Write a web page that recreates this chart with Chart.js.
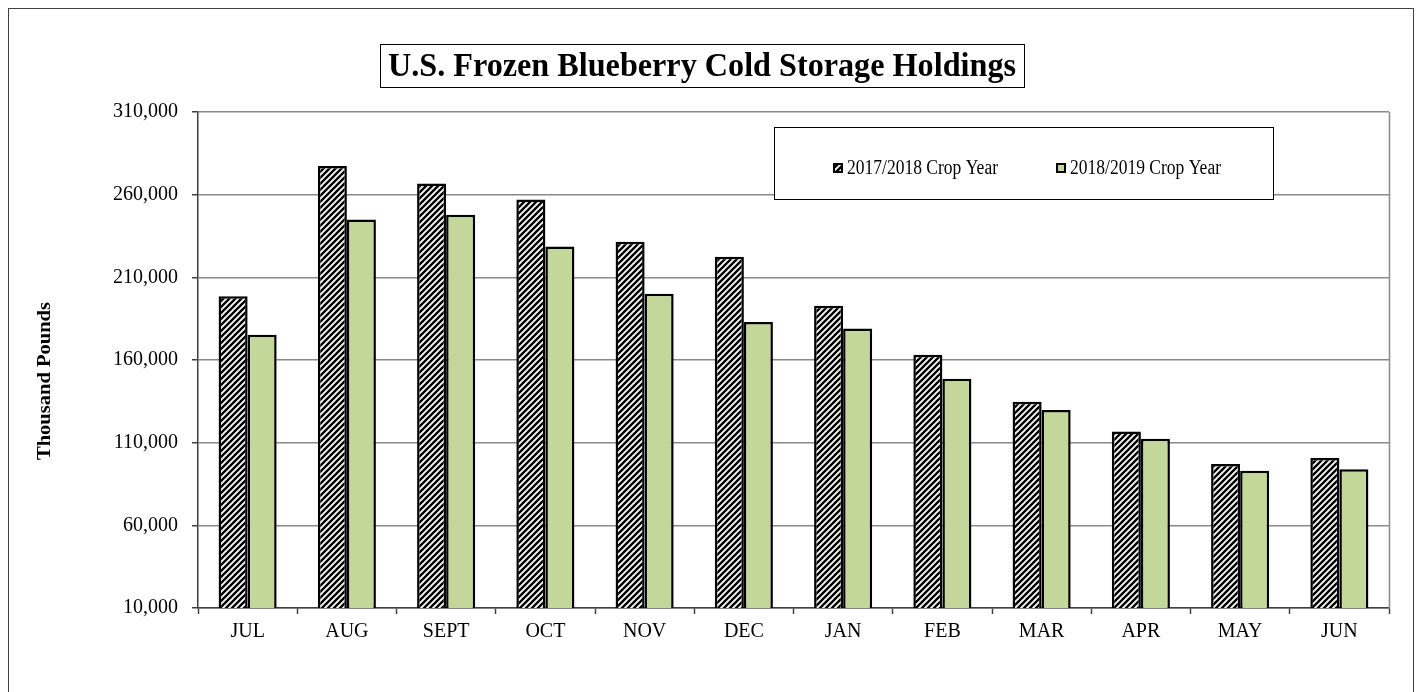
<!DOCTYPE html>
<html>
<head>
<meta charset="utf-8">
<script src="https://cdn.jsdelivr.net/npm/chart.js@4.4.1/dist/chart.umd.min.js"></script>
<style>
html,body{margin:0;padding:0;background:#fff;}
#wrap{width:1419px;height:692px;position:relative;}
</style>
</head>
<body>
<div id="wrap"><canvas id="c" width="1419" height="692"></canvas></div>
<script>
const categories = ['JUL','AUG','SEPT','OCT','NOV','DEC','JAN','FEB','MAR','APR','MAY','JUN'];
const crop2017 = [198500,277300,266800,257100,231500,222400,192800,163200,134800,116700,97100,100700];
const crop2018 = [175300,245000,247800,228600,200100,183000,179100,148600,129800,112400,93000,93900];
const seriesLabels = ['2017/2018 Crop Year','2018/2019 Crop Year'];
const chartTitle = 'U.S. Frozen Blueberry Cold Storage Holdings';
const yTitle = 'Thousand Pounds';
const yMin = 10000, yMax = 310000, yStep = 50000;

const SERIF = '"Liberation Serif", "Times New Roman", serif';
const GREEN = '#C4D79B';

function makeHatch(){
  const s = 6;
  const p = document.createElement('canvas');
  p.width = s; p.height = s;
  const g = p.getContext('2d');
  g.fillStyle = '#fff'; g.fillRect(0,0,s,s);
  g.strokeStyle = '#000'; g.lineWidth = 2.4;
  g.beginPath();
  g.moveTo(-1, s+1); g.lineTo(s+1, -1);
  g.moveTo(-2, 2); g.lineTo(2, -2);
  g.moveTo(s-2, s+2); g.lineTo(s+2, s-2);
  g.stroke();
  return document.getElementById('c').getContext('2d').createPattern(p, 'repeat');
}
const hatch = makeHatch();

// draw text fitted (horizontally scaled) into a given width, centered or left-aligned
function fitText(ctx, text, x, y, width, align){
  const w = ctx.measureText(text).width;
  const k = width / w;
  ctx.save();
  ctx.translate(x, y);
  ctx.scale(k, 1);
  ctx.textAlign = align;
  ctx.fillText(text, 0, 0);
  ctx.restore();
}

const decor = {
  id: 'decor',
  beforeDraw(chart){
    const ctx = chart.ctx;
    ctx.save();
    ctx.fillStyle = '#fff';
    ctx.fillRect(0,0,chart.width,chart.height);
    ctx.strokeStyle = '#404040'; ctx.lineWidth = 1;
    ctx.strokeRect(8.5, 8.5, 1405, 720);
    ctx.restore();
  },
  afterDatasetsDraw(chart){
    const ctx = chart.ctx;
    const a = chart.chartArea;
    ctx.save();
    // right plot border
    ctx.strokeStyle = '#8a8a8a'; ctx.lineWidth = 1.5;
    ctx.beginPath(); ctx.moveTo(Math.round(a.right)+0.5, a.top); ctx.lineTo(Math.round(a.right)+0.5, a.bottom); ctx.stroke();
    // title box
    ctx.fillStyle = '#fff';
    ctx.fillRect(380, 44, 644, 44);
    ctx.strokeStyle = '#000'; ctx.lineWidth = 1;
    ctx.strokeRect(380.5, 44.5, 644, 43);
    ctx.fillStyle = '#000';
    ctx.font = 'bold 33px ' + SERIF;
    ctx.textBaseline = 'middle';
    fitText(ctx, chartTitle, 702, 67, 628, 'center');
    // legend box
    ctx.fillStyle = '#fff';
    ctx.fillRect(774, 127, 499, 72);
    ctx.strokeStyle = '#000'; ctx.lineWidth = 1;
    ctx.strokeRect(774.5, 127.5, 499, 72);
    const xs = [833, 1056];
    chart.data.datasets.forEach((ds, i) => {
      const bx = xs[i], by = 163;
      ctx.fillStyle = ds.backgroundColor;
      ctx.fillRect(bx, by, 10, 10);
      ctx.strokeStyle = '#000'; ctx.lineWidth = 2;
      ctx.strokeRect(bx+1, by+1, 8, 8);
      ctx.fillStyle = '#000';
      ctx.font = '20px ' + SERIF;
      ctx.textBaseline = 'middle';
      fitText(ctx, ds.label, bx + 14, 169, 151, 'left');
    });
    // y axis title
    ctx.save();
    ctx.translate(45, 381);
    ctx.rotate(-Math.PI/2);
    ctx.fillStyle = '#000';
    ctx.font = 'bold 19px ' + SERIF;
    ctx.textBaseline = 'middle';
    fitText(ctx, yTitle, 0, 0, 158, 'center');
    ctx.restore();
    ctx.restore();
  }
};

new Chart(document.getElementById('c'), {
  type: 'bar',
  data: {
    labels: categories,
    datasets: [
      { label: seriesLabels[0], data: crop2017, backgroundColor: hatch, borderColor: '#000', borderWidth: 2.5, borderSkipped: false },
      { label: seriesLabels[1], data: crop2018, backgroundColor: GREEN, borderColor: '#000', borderWidth: 2.5, borderSkipped: false }
    ]
  },
  options: {
    responsive: false,
    animation: false,
    devicePixelRatio: 1,
    layout: { padding: { left: 0, top: 112, right: 30, bottom: 0 } },
    plugins: { legend: { display: false }, title: { display: false }, tooltip: { enabled: false } },
    datasets: { bar: { categoryPercentage: 0.585, barPercentage: 1.0 } },
    scales: {
      x: {
        offset: true,
        grid: { offset: true, drawOnChartArea: false, drawTicks: true, tickLength: 6, tickColor: '#404040', tickWidth: 1.5 },
        border: { display: true, color: '#404040', width: 1.5 },
        ticks: { color: '#000', font: { family: SERIF, size: 20 }, padding: 6 },
        afterFit(s){ s.height = 84; }
      },
      y: {
        min: yMin, max: yMax,
        grid: { color: '#8a8a8a', lineWidth: 1.5, drawTicks: true, tickLength: 6, tickColor: '#404040' },
        border: { display: true, color: '#404040', width: 1.5 },
        ticks: { stepSize: yStep, color: '#000', font: { family: SERIF, size: 20 }, padding: 14,
          callback: v => Number(v).toLocaleString('en-US') },
        afterFit(s){ s.width = 198; }
      }
    }
  },
  plugins: [decor]
});
</script>
</body>
</html>
